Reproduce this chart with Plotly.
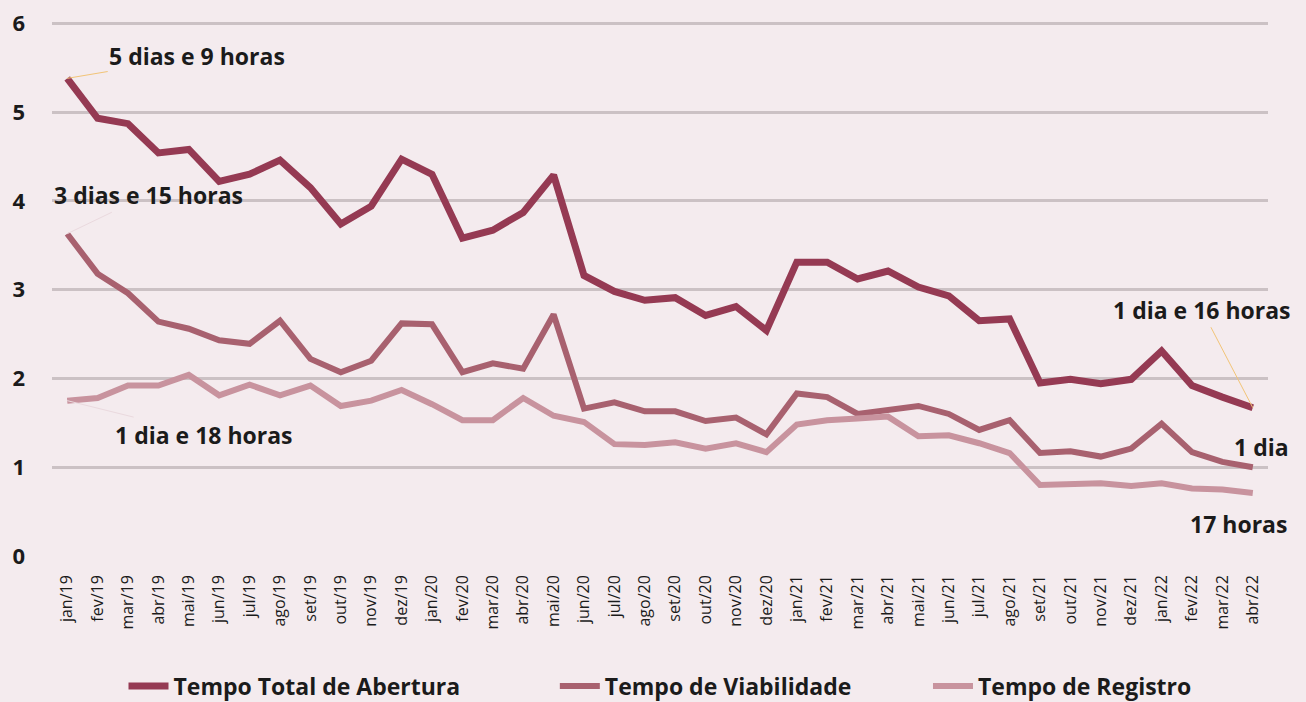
import plotly.graph_objects as go

months = ["jan","fev","mar","abr","mai","jun","jul","ago","set","out","nov","dez"]
categories = [f"{m}/{y}" for y in ["19","20","21"] for m in months] + [f"{m}/22" for m in months[:4]]

tempo_total = [5.38, 4.93, 4.87, 4.54, 4.58, 4.22, 4.30, 4.46, 4.15, 3.74, 3.94, 4.47,
               4.30, 3.58, 3.67, 3.87, 4.29, 3.16, 2.98, 2.88, 2.91, 2.71, 2.81, 2.54,
               3.31, 3.31, 3.12, 3.21, 3.03, 2.93, 2.65, 2.67, 1.95, 1.99, 1.94, 1.99,
               2.31, 1.92, 1.79, 1.67]
tempo_viab = [3.63, 3.18, 2.96, 2.64, 2.56, 2.43, 2.39, 2.65, 2.22, 2.07, 2.20, 2.62,
              2.61, 2.07, 2.17, 2.11, 2.72, 1.66, 1.73, 1.63, 1.63, 1.52, 1.56, 1.37,
              1.83, 1.79, 1.60, 1.65, 1.69, 1.60, 1.42, 1.53, 1.16, 1.18, 1.12, 1.21,
              1.49, 1.17, 1.06, 1.00]
tempo_reg = [1.75, 1.78, 1.92, 1.92, 2.04, 1.81, 1.93, 1.81, 1.92, 1.69, 1.75, 1.87,
             1.71, 1.53, 1.53, 1.78, 1.58, 1.51, 1.26, 1.25, 1.28, 1.21, 1.27, 1.17,
             1.48, 1.53, 1.55, 1.57, 1.35, 1.36, 1.27, 1.16, 0.80, 0.81, 0.82, 0.79,
             0.82, 0.76, 0.75, 0.71]

series_names = ["Tempo Total de Abertura", "Tempo de Viabilidade", "Tempo de Registro"]
colors = ["#953a53", "#a8616f", "#c8939e"]
widths = [7, 6, 6]
legend_gaps = [15, 12, 0]

FONT = "Open Sans"
TXT = "#1b1b1b"

fig = go.Figure()
for name, vals, c, w, g in zip(series_names, [tempo_total, tempo_viab, tempo_reg], colors, widths, legend_gaps):
    label = f"<b>{name}</b>" + "&nbsp;" * g
    fig.add_trace(go.Scatter(x=categories, y=vals, mode="lines", name=label,
                             line=dict(color=c, width=w)))

def ann(text, x, y, ax=None, ay=None, arrowcolor=None, xshift=0, yshift=0):
    d = dict(text=f"<b>{text}</b>", x=x, y=y, xref="x", yref="y",
             font=dict(family=FONT, size=23, color=TXT))
    if ax is not None:
        d.update(showarrow=True, ax=ax, ay=ay, arrowhead=0, arrowwidth=1,
                 arrowcolor=arrowcolor, standoff=0)
    else:
        d.update(showarrow=False, xshift=xshift, yshift=yshift)
    fig.add_annotation(**d)

ann("5 dias e 9 horas", categories[0], tempo_total[0], ax=130, ay=-22, arrowcolor="#f2c477")
ann("3 dias e 15 horas", categories[0], tempo_viab[0], ax=81, ay=-39, arrowcolor="#ead9de")
ann("1 dia e 18 horas", categories[0], tempo_reg[0], ax=137, ay=34, arrowcolor="#ead9de")
ann("1 dia e 16 horas", categories[-1], tempo_total[-1], ax=-51, ay=-98, arrowcolor="#f2c477")
ann("1 dia", categories[-1], tempo_viab[-1], xshift=9, yshift=20)
ann("17 horas", categories[-1], tempo_reg[-1], xshift=-14, yshift=-31)

fig.update_layout(
    width=1306, height=702,
    margin=dict(l=52, r=38, t=22, b=146, autoexpand=False),
    paper_bgcolor="#f4ebee", plot_bgcolor="#f4ebee",
    font=dict(family=FONT, color=TXT),
    showlegend=True,
    legend=dict(orientation="h", x=0.5, xanchor="center", xref="paper",
                y=(702 - 686) / 702, yanchor="middle", yref="container",
                font=dict(family=FONT, size=23, color=TXT), itemwidth=40,
                bgcolor="rgba(0,0,0,0)"),
    xaxis=dict(type="category", categoryorder="array", categoryarray=categories,
               range=[-0.5, 39.5], showgrid=False, zeroline=False, showline=False,
               tickangle=-90, tickfont=dict(family=FONT, size=16, color=TXT),
               ticks="", ticklabelstandoff=15, automargin=False),
    yaxis=dict(range=[0, 6.015], dtick=1, showgrid=True, gridcolor="#cbc1c4", gridwidth=3,
               zeroline=False, showline=False, ticks="",
               tickfont=dict(family=FONT, size=22, color=TXT), ticklabelstandoff=26,
               tickprefix="<b>", ticksuffix="</b>", automargin=False),
)

fig.write_html("out.html", config={"displayModeBar": False},
               post_script="document.body.style.margin='0';document.body.style.background='#f4ebee';")
